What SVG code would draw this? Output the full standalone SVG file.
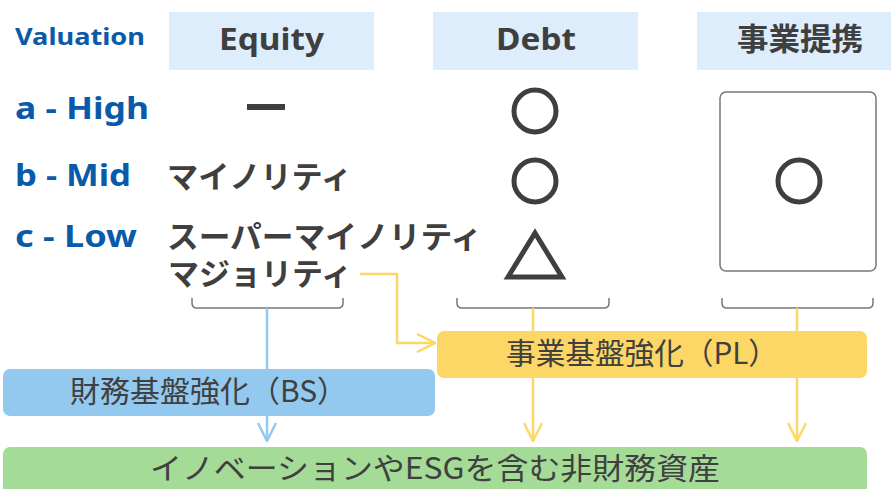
<svg xmlns="http://www.w3.org/2000/svg" width="891" height="489" viewBox="0 0 891 489">
<style>
.hdr{fill:#ddedfc}
.ht{font-family:"Noto Sans","Noto Sans CJK JP",sans-serif;font-weight:bold;font-size:31px;fill:#3f3f3f}
.lv{font-family:"Noto Sans","Noto Sans CJK JP",sans-serif;font-weight:bold;fill:#0a5aaa}
.jp{font-family:"Noto Sans CJK JP",sans-serif;font-weight:bold;font-size:31px;fill:#3f3f3f}
.bt{font-family:"Noto Sans CJK JP",sans-serif;font-size:30px;fill:#404040}
.sym{fill:none;stroke:#3f3f3f;stroke-width:5}
.br{fill:none;stroke:#777;stroke-width:1.5}
.yl{fill:none;stroke:#fdd766;stroke-width:2.5}
.bl{fill:none;stroke:#93c9ee;stroke-width:2.5}
</style>
<defs>
<marker id="ay" viewBox="0 0 20 20" refX="19" refY="10" markerWidth="20" markerHeight="20" markerUnits="userSpaceOnUse" orient="auto"><path d="M1,1 L19,10 L1,19" fill="none" stroke="#fdd766" stroke-width="2.5"/></marker>
<marker id="ab" viewBox="0 0 20 20" refX="19" refY="10" markerWidth="20" markerHeight="20" markerUnits="userSpaceOnUse" orient="auto"><path d="M1,1 L19,10 L1,19" fill="none" stroke="#93c9ee" stroke-width="2.5"/></marker>
</defs>

<g id="headers">
<rect class="hdr" x="169" y="12" width="205" height="58"/>
<text class="ht" x="219" y="50" textLength="105" lengthAdjust="spacingAndGlyphs">Equity</text>
<rect class="hdr" x="433" y="12" width="205" height="58"/>
<text class="ht" x="496" y="50" textLength="80" lengthAdjust="spacingAndGlyphs">Debt</text>
<rect class="hdr" x="697" y="12" width="194" height="58"/>
<text class="ht" x="737" y="50" textLength="126" lengthAdjust="spacingAndGlyphs" style="font-family:'Noto Sans CJK JP',sans-serif">事業提携</text>
</g>

<g id="levels">
<text class="lv" x="15" y="45" font-size="24" textLength="130" lengthAdjust="spacingAndGlyphs">Valuation</text>
<text class="lv" x="15" y="119" font-size="30" textLength="134" lengthAdjust="spacingAndGlyphs">a - High</text>
<text class="lv" x="15" y="186" font-size="30" textLength="116" lengthAdjust="spacingAndGlyphs">b - Mid</text>
<text class="lv" x="15" y="247" font-size="30" textLength="122" lengthAdjust="spacingAndGlyphs">c - Low</text>
</g>

<g id="equity">
<rect x="247" y="104" width="38" height="6" fill="#3f3f3f"/>
<text class="jp" x="167" y="188" textLength="185" lengthAdjust="spacingAndGlyphs">マイノリティ</text>
<text class="jp" x="167" y="248" textLength="315" lengthAdjust="spacingAndGlyphs">スーパーマイノリティ</text>
<text class="jp" x="168" y="285" textLength="184" lengthAdjust="spacingAndGlyphs">マジョリティ</text>
<path class="br" d="M192,298 v5 q0,5 5,5 h141 q5,0 5,-5 v-5"/>
</g>

<g id="debt">
<circle class="sym" cx="535" cy="111" r="21"/>
<circle class="sym" cx="535" cy="181" r="21"/>
<path class="sym" d="M535,233 L508,277 L562,277 Z" stroke-width="5.5"/>
<path class="br" d="M457,298 v5 q0,5 5,5 h142 q5,0 5,-5 v-5"/>
</g>

<g id="alliance">
<rect x="720" y="92" width="156" height="179" rx="6" fill="#fff" stroke="#777" stroke-width="1.5"/>
<circle class="sym" cx="799" cy="181" r="21"/>
<path class="br" d="M722,298 v5 q0,5 5,5 h141 q5,0 5,-5 v-5"/>
</g>

<g id="connectors">
<path class="bl" d="M267,308 V441" marker-end="url(#ab)"/>
<path class="yl" d="M360,274 H397 V343 H435" marker-end="url(#ay)"/>
<path class="yl" d="M533,308 V441" marker-end="url(#ay)"/>
<path class="yl" d="M797,308 V441" marker-end="url(#ay)"/>
</g>

<g id="bs">
<rect x="3" y="369" width="432" height="47" rx="7" fill="#93c9ee"/>
<text class="bt" x="70" y="402" textLength="277" lengthAdjust="spacingAndGlyphs">財務基盤強化（BS）</text>
</g>

<g id="pl">
<rect x="437" y="331" width="430" height="47" rx="7" fill="#fdd766"/>
<text class="bt" x="506" y="364" textLength="272" lengthAdjust="spacingAndGlyphs">事業基盤強化（PL）</text>
</g>

<g id="result">
<rect x="3" y="447" width="864" height="50" rx="7" fill="#a4db97"/>
<text class="bt" x="150" y="479" textLength="570" lengthAdjust="spacingAndGlyphs">イノベーションやESGを含む非財務資産</text>
</g>
</svg>
